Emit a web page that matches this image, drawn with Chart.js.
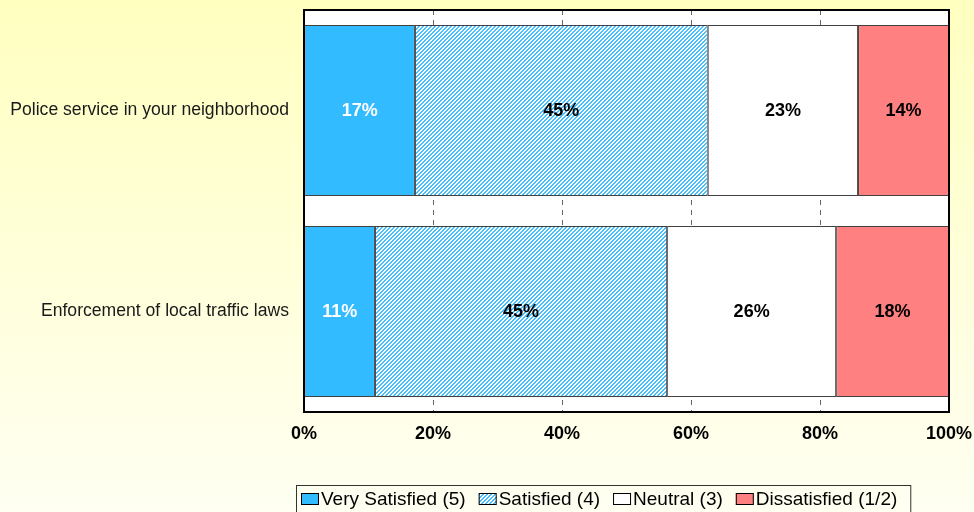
<!DOCTYPE html>
<html lang="en">
<head>
    <script src="https://cdn.jsdelivr.net/npm/chart.js@4.4.1/dist/chart.umd.min.js"></script>
    <style>
        body { margin: 0; }
        #wrap { width: 974px; height: 512px; }
    </style>
</head>

<body>
<div id="wrap"><canvas id="myChart"></canvas></div>
<script>
    const categories = ['Police service in your neighborhood', 'Enforcement of local traffic laws'];
    const seriesNames = ['Very Satisfied (5)', 'Satisfied (4)', 'Neutral (3)', 'Dissatisfied (1/2)'];
    const verySatisfied = [17.2, 11.0];
    const satisfied = [45.4, 45.3];
    const neutral = [23.3, 26.2];
    const dissatisfied = [14.1, 17.5];
    const xTicks = [0, 20, 40, 60, 80, 100];

    const FONT = 'Arial, "Liberation Sans", sans-serif';

    // light blue diagonal hatch for "Satisfied"
    function makeHatch() {
        const c = document.createElement('canvas');
        c.width = 4; c.height = 4;
        const g = c.getContext('2d');
        g.fillStyle = '#ffffff';
        g.fillRect(0, 0, 4, 4);
        g.fillStyle = '#45bfff';
        for (let x = 0; x < 4; x++) {
            for (let y = 0; y < 4; y++) {
                if ((x + y) % 4 < 2) g.fillRect(x, y, 1, 1);
            }
        }
        return g.createPattern(c, 'repeat');
    }
    const hatch = makeHatch();

    const fills = ['#33bbff', hatch, '#ffffff', '#ff8080'];
    const labelColors = ['#ffffff', '#000000', '#000000', '#000000'];

    const backdrop = {
        id: 'backdrop',
        beforeDraw(chart) {
            const ctx = chart.ctx, a = chart.chartArea;
            const grad = ctx.createLinearGradient(0, 0, 0, chart.height);
            grad.addColorStop(0, '#ffffc0');
            grad.addColorStop(1, '#fffff2');
            ctx.save();
            ctx.fillStyle = grad;
            ctx.fillRect(0, 0, chart.width, chart.height);
            ctx.fillStyle = '#ffffff';
            ctx.fillRect(a.left, a.top, a.right - a.left, a.bottom - a.top);
            ctx.restore();
        }
    };

    const barText = {
        id: 'barText',
        afterDatasetsDraw(chart) {
            const ctx = chart.ctx, a = chart.chartArea;
            ctx.save();
            ctx.font = 'bold 18px ' + FONT;
            ctx.textAlign = 'center';
            ctx.textBaseline = 'middle';
            chart.data.datasets.forEach((ds, i) => {
                chart.getDatasetMeta(i).data.forEach((bar, j) => {
                    const p = bar.getCenterPoint();
                    ctx.fillStyle = labelColors[i];
                    ctx.fillText(Math.round(ds.data[j]) + '%', p.x, p.y + 1);
                });
            });
            // plot frame
            ctx.strokeStyle = '#000000';
            ctx.lineWidth = 2;
            ctx.strokeRect(a.left, a.top, a.right - a.left, a.bottom - a.top);
            ctx.restore();
        }
    };

    const boxLegend = {
        id: 'boxLegend',
        afterDraw(chart) {
            const ctx = chart.ctx;
            ctx.save();
            ctx.font = '19px ' + FONT;
            ctx.textBaseline = 'middle';
            const top = 485, sw = 18, sh = 12;
            let x = 301;
            const y = 499;
            chart.data.datasets.forEach((ds, i) => {
                ctx.fillStyle = ds.backgroundColor;
                ctx.fillRect(x, y - sh / 2, sw, sh);
                ctx.strokeStyle = '#000000';
                ctx.lineWidth = 1;
                ctx.strokeRect(x + 0.5, y - sh / 2 + 0.5, sw - 1, sh - 1);
                x += sw + 2;
                ctx.fillStyle = '#000000';
                ctx.fillText(ds.label, x, y + 1);
                x += ctx.measureText(ds.label).width + 13;
            });
            ctx.strokeStyle = '#333333';
            ctx.lineWidth = 1;
            ctx.strokeRect(296.5, top + 0.5, x - 296, 40);
            ctx.restore();
        }
    };

    const series = [verySatisfied, satisfied, neutral, dissatisfied];

    const config = {
        type: 'bar',
        data: {
            labels: categories,
            datasets: series.map((vals, i) => ({
                label: seriesNames[i],
                data: vals,
                backgroundColor: fills[i],
                borderColor: '#404040',
                borderWidth: 1,
                borderSkipped: false,
                barPercentage: 0.85,
                categoryPercentage: 1.0
            }))
        },
        options: {
            indexAxis: 'y',
            responsive: true,
            maintainAspectRatio: false,
            animation: false,
            layout: { padding: { top: 10, right: 25, bottom: 0, left: 0 } },
            plugins: {
                legend: { display: false },
                tooltip: { enabled: false }
            },
            scales: {
                x: {
                    stacked: true,
                    min: 0,
                    max: 100,
                    afterFit: s => {
                        s.height = 100;
                        s.paddingLeft = 0;
                        s.paddingRight = 0;
                    },
                    afterBuildTicks: s => { s.ticks = xTicks.map(v => ({ value: v })); },
                    grid: { color: '#666666', lineWidth: 1, drawTicks: false },
                    border: { display: false, dash: [5, 5] },
                    ticks: {
                        padding: 11,
                        color: '#000000',
                        font: { family: FONT, size: 18, weight: 'bold' },
                        callback: v => v + '%'
                    }
                },
                y: {
                    stacked: true,
                    afterFit: s => {
                        s.width = 304;
                        s.paddingTop = 0;
                        s.paddingBottom = 0;
                    },
                    grid: { display: false, drawTicks: false },
                    border: { display: false },
                    ticks: {
                        padding: 15,
                        color: '#1a1a1a',
                        font: { family: FONT, size: 17.6 }
                    }
                }
            }
        },
        plugins: [backdrop, barText, boxLegend]
    };

    const myChart = new Chart(document.getElementById('myChart'), config);
</script>
</body>
</html>
